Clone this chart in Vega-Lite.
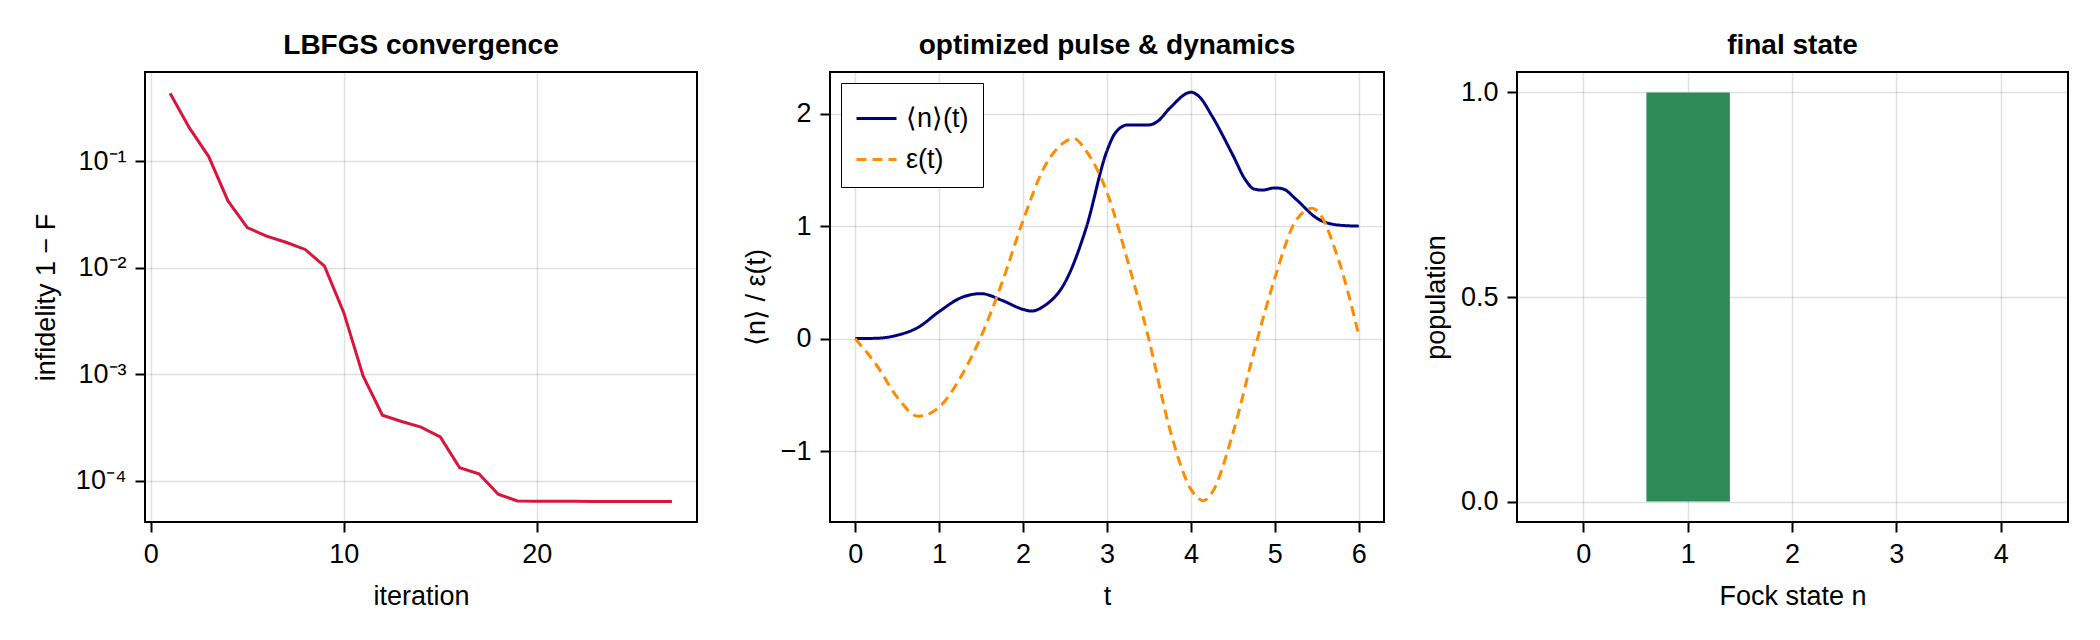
{
  "$schema": "https://vega.github.io/schema/vega-lite/v6.json",
  "background": "white",
  "padding": {"left": 31, "top": 31, "right": 5, "bottom": 5},
  "bounds": "flush",
  "spacing": 133,
  "datasets": {
    "conv": [
      {"iteration": 1, "infidelity": 0.436},
      {"iteration": 2, "infidelity": 0.206},
      {"iteration": 3, "infidelity": 0.111},
      {"iteration": 4, "infidelity": 0.0425},
      {"iteration": 5, "infidelity": 0.0239},
      {"iteration": 6, "infidelity": 0.0199},
      {"iteration": 7, "infidelity": 0.0174},
      {"iteration": 8, "infidelity": 0.0149},
      {"iteration": 9, "infidelity": 0.0104},
      {"iteration": 10, "infidelity": 0.0038},
      {"iteration": 11, "infidelity": 0.00097},
      {"iteration": 12, "infidelity": 0.000414},
      {"iteration": 13, "infidelity": 0.000362},
      {"iteration": 14, "infidelity": 0.00032},
      {"iteration": 15, "infidelity": 0.000259},
      {"iteration": 16, "infidelity": 0.000133},
      {"iteration": 17, "infidelity": 0.000117},
      {"iteration": 18, "infidelity": 0.000075},
      {"iteration": 19, "infidelity": 0.000065},
      {"iteration": 20, "infidelity": 0.0000645},
      {"iteration": 21, "infidelity": 0.0000644},
      {"iteration": 22, "infidelity": 0.0000644},
      {"iteration": 23, "infidelity": 0.0000643},
      {"iteration": 24, "infidelity": 0.0000643},
      {"iteration": 25, "infidelity": 0.0000643},
      {"iteration": 26, "infidelity": 0.0000643},
      {"iteration": 27, "infidelity": 0.0000643}
    ],
    "dyn": [
      {"t": 0, "value": 0, "series": "⟨n⟩(t)"},
      {"t": 0.25, "value": 0.003, "series": "⟨n⟩(t)"},
      {"t": 0.5, "value": 0.03, "series": "⟨n⟩(t)"},
      {"t": 0.75, "value": 0.1, "series": "⟨n⟩(t)"},
      {"t": 1.0, "value": 0.24, "series": "⟨n⟩(t)"},
      {"t": 1.25, "value": 0.36, "series": "⟨n⟩(t)"},
      {"t": 1.5, "value": 0.4, "series": "⟨n⟩(t)"},
      {"t": 1.75, "value": 0.34, "series": "⟨n⟩(t)"},
      {"t": 2.0, "value": 0.26, "series": "⟨n⟩(t)"},
      {"t": 2.1, "value": 0.245, "series": "⟨n⟩(t)"},
      {"t": 2.25, "value": 0.29, "series": "⟨n⟩(t)"},
      {"t": 2.5, "value": 0.5, "series": "⟨n⟩(t)"},
      {"t": 2.75, "value": 0.98, "series": "⟨n⟩(t)"},
      {"t": 3.0, "value": 1.67, "series": "⟨n⟩(t)"},
      {"t": 3.1, "value": 1.83, "series": "⟨n⟩(t)"},
      {"t": 3.25, "value": 1.9, "series": "⟨n⟩(t)"},
      {"t": 3.5, "value": 1.9, "series": "⟨n⟩(t)"},
      {"t": 3.6, "value": 1.93, "series": "⟨n⟩(t)"},
      {"t": 3.75, "value": 2.05, "series": "⟨n⟩(t)"},
      {"t": 4.0, "value": 2.19, "series": "⟨n⟩(t)"},
      {"t": 4.1, "value": 2.15, "series": "⟨n⟩(t)"},
      {"t": 4.25, "value": 1.98, "series": "⟨n⟩(t)"},
      {"t": 4.5, "value": 1.63, "series": "⟨n⟩(t)"},
      {"t": 4.65, "value": 1.41, "series": "⟨n⟩(t)"},
      {"t": 4.75, "value": 1.33, "series": "⟨n⟩(t)"},
      {"t": 4.85, "value": 1.32, "series": "⟨n⟩(t)"},
      {"t": 5.0, "value": 1.34, "series": "⟨n⟩(t)"},
      {"t": 5.1, "value": 1.33, "series": "⟨n⟩(t)"},
      {"t": 5.25, "value": 1.24, "series": "⟨n⟩(t)"},
      {"t": 5.5, "value": 1.07, "series": "⟨n⟩(t)"},
      {"t": 5.75, "value": 1.01, "series": "⟨n⟩(t)"},
      {"t": 6.0, "value": 1.0, "series": "⟨n⟩(t)"},
      {"t": 0, "value": 0, "series": "ε(t)"},
      {"t": 0.25, "value": -0.23, "series": "ε(t)"},
      {"t": 0.5, "value": -0.52, "series": "ε(t)"},
      {"t": 0.75, "value": -0.69, "series": "ε(t)"},
      {"t": 1.0, "value": -0.61, "series": "ε(t)"},
      {"t": 1.25, "value": -0.35, "series": "ε(t)"},
      {"t": 1.5, "value": 0.02, "series": "ε(t)"},
      {"t": 1.75, "value": 0.5, "series": "ε(t)"},
      {"t": 2.0, "value": 1.05, "series": "ε(t)"},
      {"t": 2.25, "value": 1.52, "series": "ε(t)"},
      {"t": 2.5, "value": 1.75, "series": "ε(t)"},
      {"t": 2.6, "value": 1.78, "series": "ε(t)"},
      {"t": 2.75, "value": 1.67, "series": "ε(t)"},
      {"t": 3.0, "value": 1.3, "series": "ε(t)"},
      {"t": 3.25, "value": 0.68, "series": "ε(t)"},
      {"t": 3.5, "value": -0.01, "series": "ε(t)"},
      {"t": 3.75, "value": -0.81, "series": "ε(t)"},
      {"t": 4.0, "value": -1.34, "series": "ε(t)"},
      {"t": 4.15, "value": -1.44, "series": "ε(t)"},
      {"t": 4.25, "value": -1.37, "series": "ε(t)"},
      {"t": 4.5, "value": -0.84, "series": "ε(t)"},
      {"t": 4.75, "value": -0.12, "series": "ε(t)"},
      {"t": 5.0, "value": 0.54, "series": "ε(t)"},
      {"t": 5.25, "value": 1.05, "series": "ε(t)"},
      {"t": 5.45, "value": 1.16, "series": "ε(t)"},
      {"t": 5.5, "value": 1.14, "series": "ε(t)"},
      {"t": 5.75, "value": 0.72, "series": "ε(t)"},
      {"t": 6.0, "value": 0.03, "series": "ε(t)"}
    ],
    "fock": [
      {"n": 0, "population": 0},
      {"n": 1, "population": 1.0},
      {"n": 2, "population": 0},
      {"n": 3, "population": 0},
      {"n": 4, "population": 0}
    ]
  },
  "hconcat": [
    {
      "title": "LBFGS convergence",
      "width": 552,
      "height": 450,
      "data": {"name": "conv"},
      "mark": {"type": "line", "color": "#DC143C", "strokeWidth": 3, "clip": true},
      "encoding": {
        "x": {"field": "iteration", "type": "quantitative",
              "scale": {"domain": [-0.3, 28.3], "nice": false, "zero": false},
              "axis": {"values": [0, 10, 20], "title": "iteration"}},
        "y": {"field": "infidelity", "type": "quantitative",
              "scale": {"type": "log", "domain": [0.0000412, 0.69], "nice": false},
              "axis": {"values": [0.0001, 0.001, 0.01, 0.1], "title": "infidelity 1 − F", "titleX": -99,
                       "labelExpr": "round(log(datum.value)/LN10) == -1 ? '10⁻¹' : round(log(datum.value)/LN10) == -2 ? '10⁻²' : round(log(datum.value)/LN10) == -3 ? '10⁻³' : '10⁻⁴'"}}
      }
    },
    {
      "title": "optimized pulse & dynamics",
      "width": 554,
      "height": 450,
      "data": {"name": "dyn"},
      "mark": {"type": "line", "strokeWidth": 3, "interpolate": "monotone", "clip": true},
      "encoding": {
        "x": {"field": "t", "type": "quantitative",
              "scale": {"domain": [-0.3, 6.3], "nice": false, "zero": false},
              "axis": {"values": [0, 1, 2, 3, 4, 5, 6], "title": "t"}},
        "y": {"field": "value", "type": "quantitative",
              "scale": {"domain": [-1.63, 2.37], "nice": false, "zero": false},
              "axis": {"values": [-1, 0, 1, 2], "title": "⟨n⟩ / ε(t)", "titleX": -74}},
        "color": {"field": "series", "type": "nominal",
                  "scale": {"domain": ["⟨n⟩(t)", "ε(t)"], "range": ["#000080", "#FF8C00"]},
                  "legend": {"title": null, "orient": "none", "legendX": 696, "legendY": 11, "padding": 14,
                             "strokeColor": "#000", "fillColor": "#fff", "symbolType": "stroke",
                             "symbolSize": 1600, "symbolStrokeWidth": 3, "labelFontSize": 27,
                             "rowPadding": 6, "labelOffset": 8, "labelColor": "#000"}},
        "strokeDash": {"field": "series", "type": "nominal",
                       "scale": {"domain": ["⟨n⟩(t)", "ε(t)"], "range": [[1, 0], [10, 6]]},
                       "legend": {"title": null, "orient": "none", "legendX": 696, "legendY": 11, "padding": 14,
                             "strokeColor": "#000", "fillColor": "#fff", "symbolType": "stroke",
                             "symbolSize": 1600, "symbolStrokeWidth": 3, "labelFontSize": 27,
                             "rowPadding": 6, "labelOffset": 8, "labelColor": "#000"}}
      }
    },
    {
      "title": "final state",
      "width": 551,
      "height": 450,
      "data": {"name": "fock"},
      "mark": {"type": "bar", "color": "#2E8B57"},
      "encoding": {
        "x": {"field": "n", "type": "ordinal",
              "scale": {"type": "band", "paddingInner": 0.2, "paddingOuter": 0.24},
              "axis": {"title": "Fock state n", "labelAngle": 0, "grid": true}},
        "y": {"field": "population", "type": "quantitative",
              "scale": {"domain": [-0.05, 1.05], "nice": false, "zero": false},
              "axis": {"values": [0, 0.5, 1], "format": ".1f", "title": "population", "titleX": -81}}
      }
    }
  ],
  "config": {
    "font": "Liberation Sans",
    "view": {"stroke": "#000", "strokeWidth": 2},
    "axis": {"labelFontSize": 27, "titleFontSize": 27, "titleFontWeight": "normal",
             "labelColor": "#000", "titleColor": "#000", "tickColor": "#000",
             "tickWidth": 2, "tickSize": 10, "domain": false, "grid": true,
             "gridColor": "#000", "gridOpacity": 0.12, "gridWidth": 1.5},
    "axisX": {"labelPadding": 9, "titleBaseline": "alphabetic", "titleY": 82},
    "axisY": {"labelPadding": 9, "titleBaseline": "middle"},
    "title": {"fontSize": 28, "fontWeight": "bold", "offset": 12, "baseline": "alphabetic", "color": "#000"},
    "legend": {"labelFont": "Liberation Sans"}
  }
}
